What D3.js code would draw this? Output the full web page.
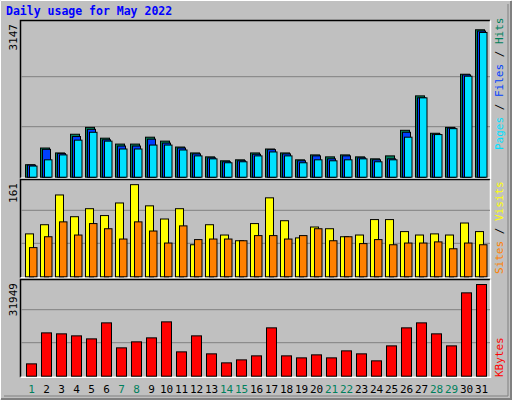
<!DOCTYPE html>
<html><head><meta charset="utf-8">
<script src="https://cdn.jsdelivr.net/npm/d3@7"></script>
<style>body{margin:0;background:#fff}text{font-family:"DejaVu Sans Mono",monospace}</style>
</head><body><svg id="c" width="512" height="400"></svg>
<script>
const days = d3.range(1,32);
const weekend = [1,7,8,14,15,21,22,28,29];
const hits  = [266,623,518,917,1064,833,707,707,854,770,644,518,434,350,371,518,602,518,371,476,434,476,434,392,455,1001,1736,938,1064,2198,3147];
const files = [259,595,504,868,1022,798,665,665,812,728,623,497,413,329,350,490,588,497,350,455,392,455,413,371,392,959,1694,917,1050,2184,3120];
const pages = [238,371,476,791,959,770,602,602,686,686,581,455,392,308,329,455,539,455,308,371,350,371,392,329,371,854,1694,910,1036,2156,3090];
const visits= [75,91,143,105,119,107,129,161,124,101,119,56,91,73,63,93,138,98,68,87,84,70,73,100,100,79,73,75,73,94,79];
const sites = [51,70,96,73,93,84,66,96,80,59,89,65,66,66,63,72,72,66,72,84,63,70,58,65,56,59,59,61,49,59,56];
const kbytes= [4300,15100,14760,14060,13010,18590,9880,11970,13360,18940,8480,14060,7790,4650,5690,7090,16850,7090,6390,7440,6390,8830,7790,5350,10570,16850,18590,14760,10570,29050,31949];

const svg = d3.select("#c");
// background & outer bevel
svg.append("rect").attr("x",0).attr("y",0).attr("width",512).attr("height",400).attr("fill","#c0c0c0");
svg.append("path").attr("d","M0.5,399.5V0.5H511.5").attr("stroke","#fff").attr("fill","none");
svg.append("path").attr("d","M1,399H511V1").attr("stroke","#808080").attr("stroke-width",2).attr("fill","none");
svg.append("path").attr("d","M4,396H508V4").attr("stroke","#808080").attr("stroke-width",1).attr("fill","none");
svg.append("text").attr("x",6).attr("y",15).attr("fill","#0000ff").attr("font-weight","bold").attr("font-size",11.5).text("Daily usage for May 2022");

const x = d3.scaleLinear().domain([1,31]).range([25,475]);
const panels = [
 {y0:176.7,y1:26.7,max:3202,label:"3147",top:20},
 {y0:276.3,y1:177.3,max:173,label:"161",top:179},
 {y0:375.7,y1:276.7,max:34504,label:"31949",top:279}
];
panels.forEach(p=>{
  p.scale = d3.scaleLinear().domain([0,p.max]).range([p.y0,p.y1]);
  const t=p.top, b=p.y0+1.5;
  svg.append("rect").attr("x",20).attr("y",t).attr("width",470).attr("height",b-t).attr("fill","#c0c0c0");
  svg.append("path").attr("d",`M20.5,${b}V${t+0.5}H490`).attr("stroke","#000").attr("stroke-width",1.5).attr("fill","none");
  svg.append("path").attr("d",`M20.5,${b}H490.5V${t+0.5}`).attr("stroke","#fff").attr("stroke-width",1.5).attr("fill","none");
  [1/3,2/3].forEach(f=>svg.append("line").attr("x1",21).attr("x2",490).attr("y1",p.scale(p.max*f)).attr("y2",p.scale(p.max*f)).attr("stroke","#808080"));
  svg.append("text").attr("transform",`translate(17,${t+4}) rotate(-90)`).attr("text-anchor","end").attr("font-size",11).attr("fill","#000").text(p.label);
});

function bars(data,p,off,w,fill){
  svg.append("g").selectAll("rect").data(data).join("rect")
   .attr("x",(d,i)=>x(days[i])+off+0.5).attr("width",w)
   .attr("y",d=>p.scale(d)+0.5).attr("height",d=>p.y0-p.scale(d))
   .attr("fill",fill).attr("stroke","#000").attr("stroke-width",1);
}
bars(hits,panels[0],0,9,"#00805c");
bars(files,panels[0],2,8,"#0040ff");
bars(pages,panels[0],4,7.5,"#00e0ff");
bars(visits,panels[1],0,8,"#ffff00");
bars(sites,panels[1],4,7.5,"#ff8000");
bars(kbytes,panels[2],1,10,"#ff0000");

// day labels
svg.append("g").selectAll("text").data(days).join("text")
 .attr("x",d=>x(d)+6.5).attr("y",393).attr("text-anchor","middle").attr("font-size",11)
 .attr("fill",d=>weekend.includes(d)?"#00805c":"#000").text(d=>d);

// right legends
function legend(parts,y){
  const t=svg.append("text").attr("transform",`translate(503,${y}) rotate(-90)`).attr("font-size",11);
  parts.forEach(([s,c])=>t.append("tspan").attr("fill",c).text(s));
}
legend([["Pages","#00e0ff"],[" / ","#000"],["Files","#0040ff"],[" / ","#000"],["Hits","#00805c"]],150);
legend([["Sites","#ff8000"],[" / ","#000"],["Visits","#ffff00"]],274);
legend([["KBytes","#ff0000"]],377);
</script></body></html>
